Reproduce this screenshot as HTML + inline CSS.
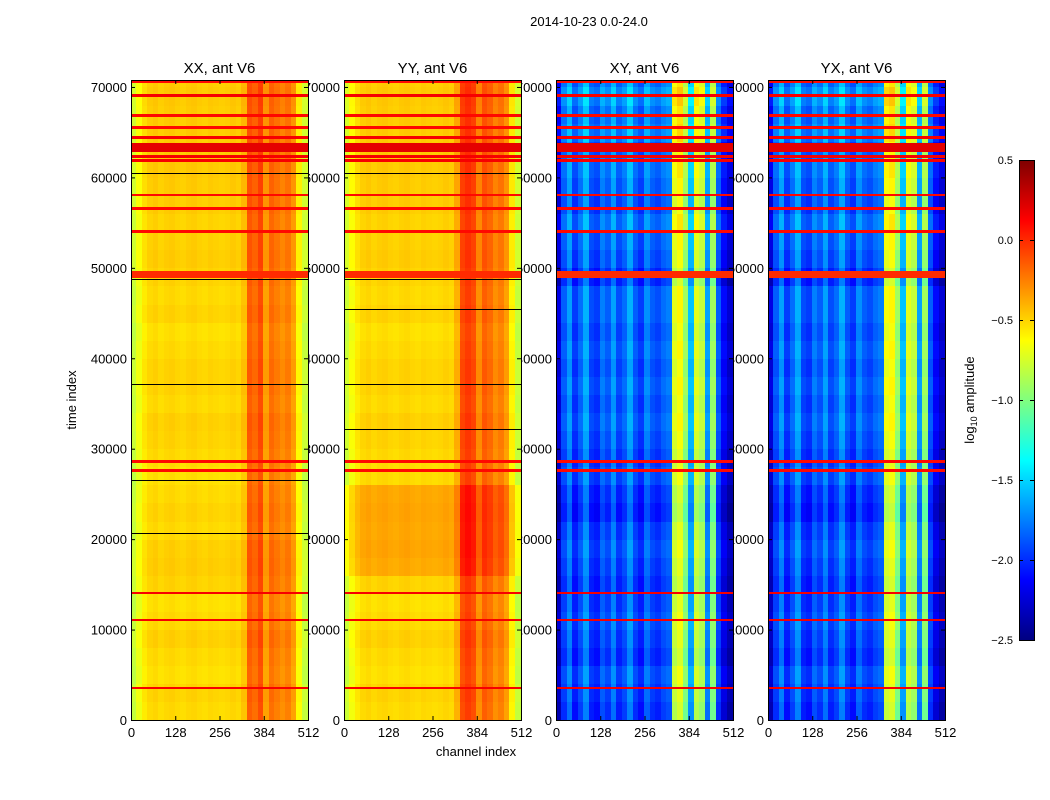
<!DOCTYPE html>
<html><head><meta charset="utf-8"><style>
body{margin:0;background:#fff;width:1050px;height:800px;overflow:hidden;font-family:"Liberation Sans",sans-serif}
canvas{position:absolute;image-rendering:pixelated}
svg{position:absolute;left:0;top:0}
</style></head><body>
<svg id="axes" width="1050" height="800"></svg>
<div id="plots"></div>
<svg id="over" width="1050" height="800" style="pointer-events:none"></svg>
<script>
// ---- data ----
const panelTitles = ["XX, ant V6","YY, ant V6","XY, ant V6","YX, ant V6"];
const xTicks = [0,128,256,384,512];
const yTicks = [0,10000,20000,30000,40000,50000,60000,70000];
const cbTicks = [0.5,0.0,-0.5,-1.0,-1.5,-2.0,-2.5];
// column profiles, 32 bins of 16 channels each (log10 amplitude)
const profXX = [-0.8,-0.68,-0.57,-0.52,-0.5,-0.53,-0.51,-0.5,-0.52,-0.53,-0.51,-0.5,-0.52,-0.53,-0.51,-0.52,-0.53,-0.52,-0.5,-0.52,-0.45,-0.15,-0.2,-0.1,-0.35,-0.2,-0.25,-0.3,-0.25,-0.35,-0.62,-0.8];
const profYY = [-0.78,-0.66,-0.57,-0.52,-0.5,-0.53,-0.51,-0.5,-0.52,-0.53,-0.51,-0.5,-0.52,-0.53,-0.51,-0.52,-0.53,-0.52,-0.5,-0.52,-0.4,-0.1,-0.05,-0.1,-0.3,-0.15,-0.2,-0.3,-0.25,-0.35,-0.6,-0.8];
const profXY = [-2.25,-1.9,-1.7,-2.0,-1.85,-1.65,-1.95,-2.0,-1.8,-1.9,-1.7,-1.95,-1.85,-1.65,-1.9,-2.0,-1.75,-1.9,-1.95,-1.85,-1.8,-0.75,-0.65,-0.95,-1.6,-0.75,-0.85,-1.7,-0.95,-1.9,-2.15,-2.3];
const profYX = [-2.25,-1.9,-1.7,-2.0,-1.85,-1.65,-1.95,-2.0,-1.8,-1.9,-1.7,-1.95,-1.85,-1.65,-1.9,-2.0,-1.75,-1.9,-1.95,-1.85,-1.8,-0.7,-0.65,-0.95,-1.6,-0.75,-0.85,-1.7,-0.95,-1.9,-2.15,-2.3];
// time-row offsets, 36 rows of 2000 samples
const rowOffXX = [0,0.02,-0.02,0,0.03,0,-0.02,0.02,0.04,0.03,0,0.02,0,-0.02,0,0.02,0.03,0,0.02,0.02,0,-0.02,0.02,0,0.02,0.04,0.03,0.02,0.04,0.04,0.05,0.05,0.04,0.04,0.05,0.04];
const rowOffYY = [0,0.02,-0.02,0,0.03,0,-0.02,0.02,0.14,0.16,0.15,0.16,0.15,0,0,0.02,0.03,0,0.02,0.02,0,-0.02,0.02,0,0.02,0.04,0.03,0.02,0.04,0.04,0.05,0.05,0.04,0.04,0.05,0.04];
const rowOffXY = [-0.1,-0.05,0,-0.1,-0.05,0,-0.05,-0.1,-0.05,0,-0.05,-0.15,-0.1,0,-0.05,0,0.05,0,0.05,0,0.05,0,0.05,0.05,-0.1,0,0.05,0.1,0,0.05,0.1,0.05,0.15,0.1,0.2,0.1];
// flagged (red) rows: start time, end time, value
const flagStart = [3400,10900,13900,27400,28400,48900,53900,56400,57900,61700,62200,62800,63300,64300,65400,66700,68900,70400];
const flagEnd   = [3700,11200,14200,27700,28700,49700,54200,56700,58200,62000,62500,63200,63800,64600,65700,67000,69200,70700];
const flagVals  = [0.15,0.15,0.15,0.1,0.1,0.0,0.1,0.1,0.1,0.15,0.15,0.2,0.2,0.15,0.1,0.1,0.15,0.1];
const darkTimesXX = [20700,26500,37200,48800,60500];
const darkTimesYY = [32200,45500,37200,48800,60500];
const panels = [
 {x:131,prof:profXX,row:rowOffXX,dark:darkTimesXX},
 {x:344,prof:profYY,row:rowOffYY,dark:darkTimesYY},
 {x:556,prof:profXY,row:rowOffXY,dark:[]},
 {x:768,prof:profYX,row:rowOffXY,dark:[]}];
const PW=177, PH=640, TOP=80, TMAX=70770, VMIN=-2.5, VMAX=0.5;
function jet(v){let x=(v-VMIN)/(VMAX-VMIN);x=Math.max(0,Math.min(1,x));
 const c=t=>Math.round(255*Math.max(0,Math.min(1,1.5-Math.abs(t))));
 return `rgb(${c(4*x-3)},${c(4*x-2)},${c(4*x-1)})`;}
const yPix = t => PH - t/TMAX*PH;
const xPix = ch => ch/512*PW;
const NS="http://www.w3.org/2000/svg";
const ax=document.getElementById('axes'), ov=document.getElementById('over');
function txt(par,x,y,s,size,anchor,name){const t=document.createElementNS(NS,'text');
 t.setAttribute('x',x);t.setAttribute('y',y);t.setAttribute('font-size',size);t.setAttribute('text-anchor',anchor);
 t.setAttribute('font-family','Liberation Sans, sans-serif');t.textContent=s;
 
 
 par.appendChild(t);return t;}
function line(par,x1,y1,x2,y2,name){const l=document.createElementNS(NS,'line');
 l.setAttribute('x1',x1);l.setAttribute('y1',y1);l.setAttribute('x2',x2);l.setAttribute('y2',y2);l.setAttribute('stroke','#000');
 
 
 par.appendChild(l);}
txt(ov,589,26,"2014-10-23 0.0-24.0",13,'middle','figure-title');
txt(ax,476,756,"channel index",13,'middle','x-axis-title');
const yt=txt(ax,76,400,"time index",13,'middle','y-axis-title');yt.setAttribute('transform','rotate(-90 76 400)');
panels.forEach((p,i)=>{yTicks.forEach(t=>{txt(ax,p.x-4,TOP+yPix(t)+5,String(t),13,'end','y-tick-label');});});
const plots=document.getElementById('plots');
panels.forEach((p,i)=>{
 const cv=document.createElement('canvas');cv.width=PW;cv.height=PH;
 cv.style.left=p.x+'px';cv.style.top=TOP+'px';
 
 
 plots.appendChild(cv);const g=cv.getContext('2d');
 const nb=p.prof.length, nr=p.row.length;
 for(let r=0;r<nr;r++)for(let c=0;c<nb;c++){
  g.fillStyle=jet(p.prof[c]+p.row[r]);
  const x0=Math.floor(xPix(c*512/nb)),x1=Math.ceil(xPix((c+1)*512/nb));
  const y1=yPix(r*2000),y0=yPix(Math.min((r+1)*2000,TMAX));
  g.fillRect(x0,Math.floor(y0),x1-x0,Math.ceil(y1)-Math.floor(y0));}
 p.dark.forEach(t=>{g.fillStyle='#000';g.fillRect(0,Math.round(yPix(t)),PW,1);});
 flagStart.forEach((t,k)=>{g.fillStyle=jet(flagVals[k]);
  const ya=Math.round(yPix(flagEnd[k])), yb=Math.round(yPix(t));
  g.fillRect(0,ya,PW,Math.max(2,yb-ya));});
 const fr=document.createElementNS(NS,'rect');fr.setAttribute('x',p.x+0.5);fr.setAttribute('y',TOP+0.5);
 fr.setAttribute('width',PW);fr.setAttribute('height',PH);fr.setAttribute('fill','none');fr.setAttribute('stroke','#000');
 
 
 ov.appendChild(fr);
 txt(ov,p.x+PW/2,73,panelTitles[i],15,'middle','panel-title');
 xTicks.forEach(ch=>{const X=p.x+xPix(ch)+0.5;
  line(ov,X,TOP+PH,X,TOP+PH-4,'x-tick');line(ov,X,TOP,X,TOP+4,'x-tick');
  txt(ov,X,TOP+PH+17,String(ch),13,'middle','x-tick-label');});
 yTicks.forEach(t=>{const Y=TOP+yPix(t)+0.5;line(ov,p.x,Y,p.x+4,Y,'y-tick');line(ov,p.x+PW,Y,p.x+PW-4,Y,'y-tick');});
});
// colorbar
const cb=document.createElement('canvas');cb.width=15;cb.height=480;cb.style.left='1019px';cb.style.top='160px';


plots.appendChild(cb);const cg=cb.getContext('2d');
for(let y=0;y<480;y++){cg.fillStyle=jet(VMAX-(y/480)*(VMAX-VMIN));cg.fillRect(0,y,15,1);}
const cf=document.createElementNS(NS,'rect');cf.setAttribute('x',1019.5);cf.setAttribute('y',160.5);cf.setAttribute('width',15);cf.setAttribute('height',480);cf.setAttribute('fill','none');cf.setAttribute('stroke','#000');


ov.appendChild(cf);
cbTicks.forEach(v=>{const Y=160+(VMAX-v)/(VMAX-VMIN)*480;
 line(ov,1019,Y+0.5,1023,Y+0.5,'colorbar-tick');line(ov,1030,Y+0.5,1034,Y+0.5,'colorbar-tick');
 txt(ov,1013,Y+4,(v<0?'\u2212':'')+Math.abs(v).toFixed(1),11,'end','colorbar-tick-label');});
const cl=txt(ov,974,400,"",13,'middle','colorbar-label');cl.innerHTML='log<tspan font-size="9" dy="3">10</tspan><tspan dy="-3"> amplitude</tspan>';
cl.setAttribute('transform','rotate(-90 974 400)');
</script>
</body></html>
